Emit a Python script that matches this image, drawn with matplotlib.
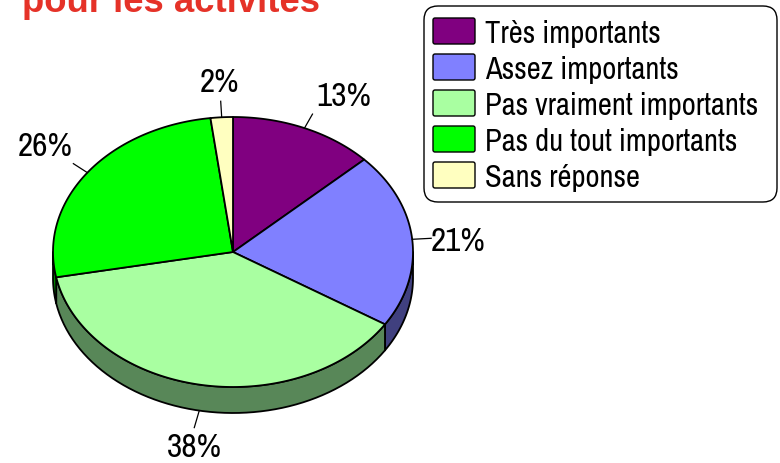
import numpy as np
import matplotlib
matplotlib.use('Agg')
import matplotlib.pyplot as plt
from matplotlib.patches import Polygon, FancyBboxPatch
from matplotlib import font_manager as fm

# Données
categories = ['Très importants', 'Assez importants', 'Pas vraiment importants',
              'Pas du tout importants', 'Sans réponse']
valeurs = [13, 21, 38, 26, 2]
etiquettes = ['13%', '21%', '38%', '26%', '2%']
couleurs = ['#800080', '#8080ff', '#a9ffa1', '#00ff00', '#ffffc0']
couleurs_cote = ['#400040', '#40407f', '#588758', '#008000', '#80805f']
titre = 'pour les activités'

# police étroite (type Arial Narrow)
dispo = {f.name for f in fm.fontManager.ttflist}
police = [p for p in ['Liberation Sans Narrow', 'Archivo Narrow'] if p in dispo] + ['DejaVu Sans']

fig = plt.figure(figsize=(7.8, 4.64), dpi=100)
ax = fig.add_axes([0, 0, 1, 1])
ax.set_xlim(0, 780)
ax.set_ylim(464, 0)
ax.axis('off')

# géométrie du camembert 3D (en pixels)
cx, cy, rx, ry, prof = 233, 253, 180, 135, 26


def point(a, dz=0.0):
    r = np.radians(a)
    return cx + rx * np.cos(r), cy - ry * np.sin(r) + dz


# angles des parts (sens horaire depuis le haut)
total = sum(valeurs)
bornes = [90.0]
for v in valeurs:
    bornes.append(bornes[-1] - 360.0 * v / total)

# côtés (partie avant seulement : angles entre -180 et 0)
for i in range(len(valeurs)):
    a0, a1 = bornes[i], bornes[i + 1]
    for decal in (0, 360, -360):
        d0 = min(a0 + decal, 0)
        d1 = max(a1 + decal, -180)
        if d0 > d1:
            angs = np.linspace(d0, d1, 60)
            haut = [point(a) for a in angs]
            bas = [point(a, prof) for a in angs[::-1]]
            ax.add_patch(Polygon(haut + bas, closed=True, facecolor=couleurs_cote[i],
                                 edgecolor='black', linewidth=1.3, joinstyle='round'))

# dessus
for i in range(len(valeurs)):
    angs = np.linspace(bornes[i], bornes[i + 1], 120)
    pts = [(cx, cy)] + [point(a) for a in angs]
    ax.add_patch(Polygon(pts, closed=True, facecolor=couleurs[i],
                         edgecolor='black', linewidth=1.3, joinstyle='round'))

# étiquettes avec traits de rappel
reglages = [  # (dx, dy, dz, ha, tx, ty)
    (8, -14, 0, 'left', 4, -9),
    (19, -1, 0, 'left', 0, 12),
    (-5, 17, prof, 'center', 0, 28),
    (-14, -9, 0, 'right', -1, -9),
    (-1, -16, 0, 'center', -1, -10),
]
for i, lab in enumerate(etiquettes):
    mid = (bornes[i] + bornes[i + 1]) / 2
    dx, dy, dz, ha, tx, ty = reglages[i]
    x0, y0 = point(mid, dz)
    x1, y1 = x0 + dx, y0 + dy
    ax.plot([x0, x1], [y0, y1], color='black', linewidth=0.9)
    ax.text(x1 + tx, y1 + ty, lab, ha=ha, va='baseline', fontsize=24, family=police,
            color='black')

# légende
ax.add_patch(FancyBboxPatch((424, 7), 353, 196, boxstyle='round,pad=0,rounding_size=14',
                            facecolor='white', edgecolor='black', linewidth=1.0))
for i, cat in enumerate(categories):
    yc = 32 + 36 * i
    ax.add_patch(FancyBboxPatch((433, yc - 13), 42, 26, boxstyle='round,pad=0,rounding_size=2',
                                facecolor=couleurs[i], edgecolor='black', linewidth=1.0))
    ax.text(485, yc + 11, cat, ha='left', va='baseline', fontsize=22, family=police,
            color='black')

# titre (partiellement coupé en haut)
ax.text(22, 12, titre, ha='left', va='baseline', fontsize=26.3, fontweight='bold',
        family=['Liberation Sans', 'DejaVu Sans'], color='#e53228')

fig.savefig('out.png', dpi=100)
